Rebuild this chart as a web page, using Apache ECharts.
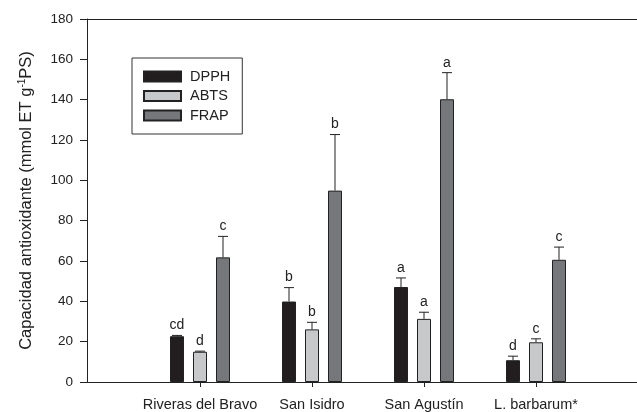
<!DOCTYPE html>
<html>
<head>
<meta charset="utf-8">
<script src="https://cdn.jsdelivr.net/npm/echarts@6/dist/echarts.min.js"></script>
<style>
html,body{margin:0;padding:0;background:#fff;}
#chart{width:637px;height:412px;}
</style>
</head>
<body>
<div id="chart"></div>
<script>
const categories = ['Riveras del Bravo', 'San Isidro', 'San Agustín', 'L. barbarum*'];
const seriesNames = ['DPPH', 'ABTS', 'FRAP'];
const dpph = [22.7, 39.9, 47.1, 10.8];
const dpphErr = [0.4, 6.9, 4.5, 2.0];
const dpphLetters = ['cd', 'b', 'a', 'd'];
const abts = [15.0, 26.1, 31.3, 19.7];
const abtsErr = [0.3, 3.5, 3.3, 1.7];
const abtsLetters = ['d', 'b', 'a', 'c'];
const frap = [61.8, 94.9, 140.2, 60.6];
const frapErr = [10.4, 27.8, 13.2, 6.3];
const frapLetters = ['c', 'b', 'a', 'c'];
const yTicks = [0, 20, 40, 60, 80, 100, 120, 140, 160, 180];

const values = [dpph, abts, frap];
const errs = [dpphErr, abtsErr, frapErr];
const letters = [dpphLetters, abtsLetters, frapLetters];
const colors = ['#221e1f', '#c7c8ca', '#76777b'];

const FONT = '"Liberation Sans", Arial, sans-serif';
const TXT = '#222';
const BAR_W = 14;
const BAR_GAP = 9;

const plotTop = 19, plotBottom = 30;

function errorSeries(k) {
  const offset = (k - 1) * (BAR_W + BAR_GAP);
  return {
    type: 'custom',
    name: 'err' + k,
    xAxisIndex: 2,
    yAxisIndex: 1,
    silent: true,
    z: 5,
    data: categories.map((c, i) => [i, values[k][i], errs[k][i]]),
    renderItem: function (params, api) {
      const i = api.value(0);
      const top = api.value(1);
      const e = api.value(2);
      const p0 = api.coord([i, top]);
      const p1 = api.coord([i, top + e]);
      const x = p0[0] + offset;
      const cap = 5;
      return {
        type: 'group',
        children: [
          { type: 'line', shape: { x1: x, y1: p0[1], x2: x, y2: p1[1] }, style: { stroke: '#222', lineWidth: 1 } },
          { type: 'line', shape: { x1: x - cap, y1: p1[1], x2: x + cap, y2: p1[1] }, style: { stroke: '#222', lineWidth: 1 } },
          { type: 'text', x: x, y: p1[1] - 3, style: { text: letters[k][params.dataIndex], textAlign: 'center', textVerticalAlign: 'bottom', font: '14px ' + FONT, fill: TXT } }
        ]
      };
    }
  };
}

const barSeries = seriesNames.map((n, k) => ({
  type: 'bar',
  name: n,
  xAxisIndex: 2,
  yAxisIndex: 1,
  data: values[k],
  barWidth: BAR_W,
  barGap: (BAR_GAP / BAR_W * 100) + '%',
  itemStyle: { color: colors[k], borderColor: '#222', borderWidth: 1 },
  z: 3
}));

const chart = echarts.init(document.getElementById('chart'), null, { renderer: 'canvas' });
chart.setOption({
  backgroundColor: '#fff',
  animation: false,
  legend: {
    data: seriesNames.map(n => ({ name: n, icon: 'rect' })),
    orient: 'vertical',
    left: 132,
    top: 58,
    padding: [11, 12, 11, 11],
    itemWidth: 37,
    itemHeight: 10,
    itemGap: 4.5,
    borderColor: '#333',
    borderWidth: 1,
    textStyle: { fontFamily: FONT, fontSize: 14.5, color: TXT, padding: [0, 0, 0, 4] },
    selectedMode: false
  },
  grid: [
    { left: 87, right: 0, top: plotTop, bottom: plotBottom },
    { left: 144, right: 45, top: plotTop, bottom: plotBottom }
  ],
  xAxis: [
    { type: 'value', gridIndex: 0, position: 'bottom', min: 0, max: 1, axisLine: { show: true, lineStyle: { color: '#222', width: 1 } }, axisTick: { show: false }, axisLabel: { show: false }, splitLine: { show: false } },
    { type: 'value', gridIndex: 0, position: 'top', min: 0, max: 1, axisLine: { show: true, onZero: false, lineStyle: { color: '#222', width: 1 } }, axisTick: { show: false }, axisLabel: { show: false }, splitLine: { show: false } },
    { type: 'category', gridIndex: 1, data: categories,
      axisLine: { show: false },
      axisTick: { show: true, alignWithLabel: true, length: 5, lineStyle: { color: '#222' } },
      axisLabel: { margin: 15, fontFamily: FONT, fontSize: 14.5, color: TXT, interval: 0 },
      splitLine: { show: false } }
  ],
  yAxis: [
    { type: 'value', gridIndex: 0, min: 0, max: 180, interval: 20,
      axisLine: { show: true, lineStyle: { color: '#222', width: 1 } },
      axisTick: { show: true, length: 7, lineStyle: { color: '#222' } },
      axisLabel: { margin: 14, fontFamily: FONT, fontSize: 13.5, color: TXT, formatter: v => yTicks.includes(v) ? String(v) : '' },
      splitLine: { show: false },
      name: '{n|Capacidad antioxidante (mmol ET g}{s|-1}{n|PS)}',
      nameLocation: 'middle',
      nameGap: 52,
      nameRotate: 90,
      nameTextStyle: {
        rich: {
          n: { fontFamily: FONT, fontSize: 16.5, color: TXT },
          s: { fontFamily: FONT, fontSize: 10, color: TXT, verticalAlign: 'top', padding: [0, 0, 8, 0] }
        }
      }
    },
    { type: 'value', gridIndex: 1, min: 0, max: 180, interval: 20, show: false, splitLine: { show: false } }
  ],
  series: barSeries.concat([errorSeries(0), errorSeries(1), errorSeries(2)])
});
</script>
</body>
</html>
